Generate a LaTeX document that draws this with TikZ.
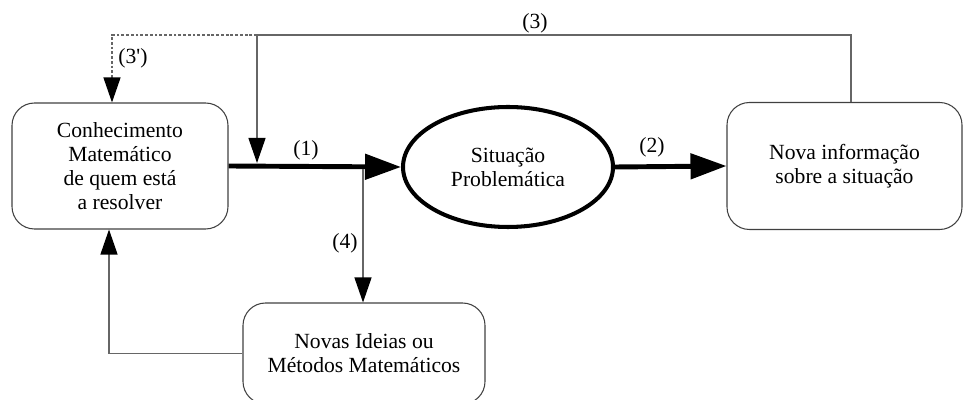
\documentclass[tikz,border=0pt]{standalone}
\usepackage{fontspec}
\setmainfont{Liberation Serif}
\usetikzlibrary{shapes.geometric,arrows.meta}
\begin{document}
\begin{tikzpicture}[x=1cm,y=1cm,
  every node/.append style={font=\fontsize{12.3}{13.6}\selectfont},
  box/.style={draw=black!75,line width=0.6pt,rounded corners=0.45cm,align=center,inner sep=0pt},
  link/.style={draw=black!60,line width=0.7pt,-{Triangle[length=0.5cm,width=0.34cm,color=black]}},
  bold/.style={line width=2.8pt,-{Triangle[length=0.72cm,width=0.5cm]}},
  lab/.style={inner sep=0pt}]
\useasboundingbox (0,0) rectangle (19.26,8);

\node[box,minimum width=4.32cm,minimum height=2.52cm] (know) at (2.40,4.68)
  {Conhecimento\\Matemático\\de quem está\\a resolver};
\node[draw,ellipse,line width=2.3pt,minimum width=4.2cm,minimum height=2.4cm,align=center,inner sep=0pt] (sit) at (10.16,4.66)
  {Situação\\Problemática};
\node[box,minimum width=4.7cm,minimum height=2.54cm] (info) at (16.89,4.68)
  {Nova informação\\sobre a situação};
\node[box,minimum width=4.84cm,minimum height=2.02cm] (ideas) at (7.28,0.93)
  {Novas Ideias ou\\Métodos Matemáticos};

\coordinate (top) at (5.14,7.30);
\coordinate (hit) at (5.14,4.74);
\coordinate (split) at (7.26,4.62);

\draw[bold] (know.east) -- (sit.west);
\draw[bold] (sit.east) -- (info.west);
\draw[link] ([xshift=0.13cm]info.north) |- (top) -- (hit);
\draw[link,dash pattern=on 1.6pt off 1.1pt] (top) -| ([xshift=-0.16cm]know.north);
\draw[link] (split) -- (split |- ideas.north);
\draw[link] (ideas.west) -| ([xshift=-0.22cm]know.south);

\node[lab] (l1) at (6.12,5.00) {(1)};
\node[lab] (l2) at (13.04,5.06) {(2)};
\node[lab] (l3) at (10.70,7.54) {(3)};
\node[lab] (l3b) at (2.66,6.84) {(3\textquotesingle)};
\node[lab] (l4) at (6.90,3.14) {(4)};
\end{tikzpicture}
\end{document}
